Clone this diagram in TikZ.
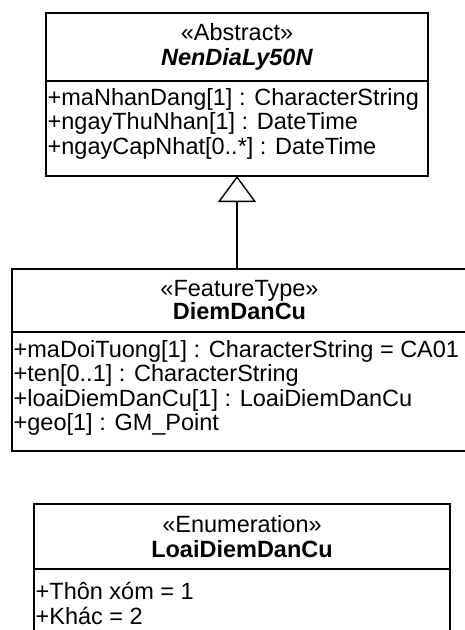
\documentclass[tikz,border=0pt]{standalone}
\usepackage{fontspec}
\setmainfont{Liberation Sans}
\usetikzlibrary{positioning,arrows.meta}

\tikzset{
	uml/.style={draw, line width=1.4pt, outer sep=0pt, inner sep=0pt},
	head/.style={uml, align=center, font=\fontsize{23.5}{25}\selectfont},
	body/.style={uml},
	attr/.style={align=left, inner xsep=1.5pt, inner ysep=0pt, font=\fontsize{23.5}{24.5}\selectfont},
	inherit/.style={line width=1.4pt, -{Triangle[open, length=26pt, width=38pt]}},
}

\begin{document}
\begin{tikzpicture}[x=1pt, y=-1pt]
	\clip (0,0) rectangle (465,630);
	
	% NenDiaLy50N
	\node[head, minimum width=382pt, minimum height=68pt] (nenHead) at (237,47) {«Abstract»\\\textbf{\textit{NenDiaLy50N}}};
	\node[body, minimum width=382pt, minimum height=95pt, below=0pt of nenHead] (nenBody) {};
	\node[attr, below right=7pt and 0pt of nenBody.north west] (nenAttr) {+maNhanDang[1] : CharacterString\\+ngayThuNhan[1] : DateTime\\+ngayCapNhat[0..*] : DateTime};
	
	% DiemDanCu
	\node[head, minimum width=455pt, minimum height=63pt, anchor=north] (dienHead) at (239.5,269) {«FeatureType»\\[-2pt]\textbf{DiemDanCu}};
	\node[body, minimum width=455pt, minimum height=119pt, below=0pt of dienHead] (dienBody) {};
	\node[attr, below right=8pt and 0pt of dienBody.north west] (dienAttr) {+maDoiTuong[1] : CharacterString = CA01\\+ten[0..1] : CharacterString\\+loaiDiemDanCu[1] : LoaiDiemDanCu\\+geo[1] : GM\_Point};
	
	% LoaiDiemDanCu
	\node[head, minimum width=416pt, minimum height=65pt] (loaiHead) at (242,536.5) {«Enumeration»\\\textbf{LoaiDiemDanCu}};
	\node[body, minimum width=416pt, minimum height=90pt, below=0pt of loaiHead] (loaiBody) {};
	\node[attr, below right=13pt and 0pt of loaiBody.north west] (loaiAttr) {+Thôn xóm = 1\\+Khác = 2};
	
	\draw[inherit] (dienHead.north -| nenBody.south) -- (nenBody.south);
\end{tikzpicture}
\end{document}
